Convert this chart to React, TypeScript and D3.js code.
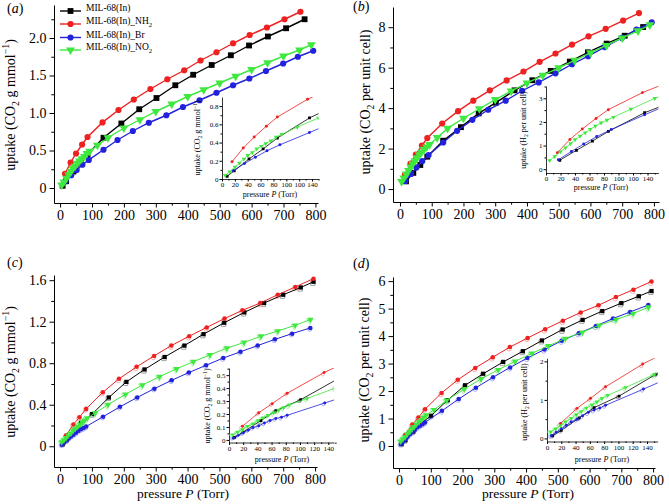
import React, { useEffect, useRef } from "react";
import * as d3 from "d3";

type Pt = [number, number];
type Part = [string, string];

// (a) uptake, CO2 g mmol-1 : black, red, blue, green
const aBlack: Pt[] = [[8,0.03],[19,0.09],[42,0.22],[64,0.33],[86,0.45],[136,0.67],[192,0.86],[248,1.05],[302,1.2],[361,1.37],[417,1.51],[475,1.64],[535,1.77],[592,1.9],[651,2.02],[708,2.13],[766,2.25]];
const aRed: Pt[] = [[15.6,0.19],[33,0.34],[50,0.46],[69,0.58],[86,0.68],[133,0.875],[183,1.04],[231,1.18],[283,1.32],[336,1.45],[389,1.57],[440,1.7],[490,1.81],[542,1.93],[594,2.04],[648,2.14],[703,2.25],[753,2.35]];
const aBlue: Pt[] = [[17,0.09],[35,0.17],[52,0.24],[70,0.31],[90,0.375],[136,0.51],[180,0.64],[228,0.76],[278,0.87],[333,0.97],[385,1.08],[437,1.17],[490,1.27],[542,1.37],[593,1.46],[645,1.56],[699,1.66],[745,1.75],[793,1.83]];
const aGreen: Pt[] = [[5,0.04],[12,0.08],[20,0.13],[27,0.175],[34,0.22],[40,0.26],[47,0.29],[54,0.33],[61,0.36],[68,0.39],[76,0.42],[84,0.46],[93,0.49],[117,0.57],[150,0.67],[200,0.8],[250,0.91],[300,1.02],[350,1.12],[400,1.22],[450,1.31],[500,1.4],[550,1.49],[600,1.58],[650,1.67],[700,1.76],[750,1.84],[787,1.91]];

// (b) uptake, CO2 per unit cell
const bBlack: Pt[] = [[19,0.38],[42,0.8],[64,1.19],[86,1.6],[136,2.39],[192,3.06],[248,3.74],[302,4.27],[361,4.88],[417,5.38],[475,5.84],[535,6.3],[592,6.76],[651,7.19],[708,7.58],[766,8.01]];
const bRed: Pt[] = [[15.6,0.7],[33,1.26],[50,1.7],[69,2.15],[86,2.52],[133,3.24],[183,3.85],[231,4.37],[283,4.88],[336,5.37],[389,5.81],[440,6.29],[490,6.7],[542,7.14],[594,7.55],[648,7.92],[703,8.33],[753,8.7]];
const bBlue: Pt[] = [[17,0.4],[35,0.75],[52,1.07],[70,1.38],[90,1.68],[136,2.3],[180,2.88],[228,3.42],[278,3.92],[333,4.37],[385,4.86],[437,5.27],[490,5.72],[542,6.17],[593,6.57],[645,7.02],[699,7.47],[745,7.88],[793,8.24]];
const bGreen: Pt[] = [[5,0.37],[12,0.54],[20,0.74],[27,0.91],[34,1.09],[40,1.25],[47,1.4],[54,1.54],[61,1.69],[68,1.82],[76,1.96],[84,2.08],[93,2.2],[117,2.54],[150,3.0],[200,3.5],[250,3.97],[300,4.42],[350,4.84],[400,5.24],[450,5.62],[500,5.99],[550,6.36],[600,6.73],[650,7.1],[700,7.47],[750,7.82],[787,8.12]];

// (c) uptake, CO2 g mmol-1 (filled + open)
const cBlack: Pt[] = [[8,0.02],[20,0.06],[45,0.15],[66,0.225],[101,0.31],[153,0.47],[208,0.62],[265,0.74],[328,0.86],[390,0.97],[450,1.08],[515,1.19],[578,1.29],[640,1.38],[700,1.46],[755,1.53],[795,1.585]];
const cRed: Pt[] = [[19,0.106],[42,0.21],[61,0.28],[82,0.36],[134,0.52],[185,0.65],[240,0.765],[295,0.87],[349,0.97],[405,1.06],[460,1.145],[516,1.23],[572,1.31],[628,1.38],[683,1.46],[738,1.535],[795,1.615]];
const cBlue: Pt[] = [[6,0.015],[13,0.035],[20,0.055],[27,0.075],[34,0.095],[42,0.11],[50,0.13],[58,0.15],[66,0.165],[74,0.175],[82,0.19],[135,0.285],[188,0.38],[242,0.47],[296,0.555],[350,0.635],[404,0.71],[458,0.78],[512,0.85],[566,0.91],[620,0.97],[674,1.03],[728,1.085],[785,1.14]];
const cGreen: Pt[] = [[5,0.04],[12,0.06],[19,0.08],[26,0.105],[34,0.125],[41,0.15],[48,0.17],[55,0.19],[63,0.21],[70,0.23],[77,0.25],[85,0.27],[110,0.32],[150,0.4],[205,0.5],[258,0.59],[312,0.67],[365,0.745],[418,0.815],[470,0.88],[523,0.945],[577,1.0],[630,1.06],[683,1.11],[737,1.165],[785,1.22]];
const cBlackOpen: Pt[] = [[6,0.015],[18,0.05],[43,0.14],[64,0.215],[99,0.3],[151,0.46],[206,0.605],[263,0.725],[326,0.845],[388,0.955],[448,1.065],[513,1.175],[576,1.275],[638,1.365],[698,1.445],[753,1.515],[793,1.57]];
const cRedOpen: Pt[] = [[17,0.095],[40,0.2],[59,0.27],[80,0.35],[132,0.505],[183,0.635],[238,0.75],[293,0.855],[347,0.955],[403,1.045],[458,1.13],[514,1.215],[570,1.295],[626,1.365],[681,1.445],[736,1.52],[792,1.595]];
const cBlueOpen: Pt[] = [[4,0.01],[11,0.028],[18,0.047],[25,0.066],[32,0.086],[40,0.1],[48,0.12],[56,0.14],[64,0.155],[72,0.165],[80,0.18],[133,0.275],[186,0.37],[240,0.46],[294,0.545],[348,0.625],[402,0.7],[456,0.77],[510,0.84],[564,0.9],[618,0.96],[672,1.02],[726,1.075],[783,1.13]];
const cGreenOpen: Pt[] = [[4,0.03],[11,0.05],[17,0.07],[24,0.095],[32,0.115],[39,0.14],[46,0.16],[53,0.18],[61,0.2],[68,0.22],[75,0.24],[83,0.26],[108,0.31],[148,0.39],[203,0.49],[256,0.58],[310,0.66],[363,0.735],[416,0.805],[468,0.87],[521,0.935],[575,0.99],[628,1.05],[681,1.1],[735,1.155],[783,1.21]];

// (d) uptake, CO2 per unit cell (filled + open)
const dBlack: Pt[] = [[8,0.07],[20,0.21],[45,0.53],[66,0.8],[101,1.1],[153,1.67],[208,2.21],[265,2.63],[328,3.06],[390,3.45],[450,3.84],[515,4.24],[578,4.59],[640,4.91],[700,5.2],[755,5.45],[795,5.64]];
const dRed: Pt[] = [[19,0.39],[42,0.78],[61,1.04],[82,1.34],[134,1.93],[185,2.41],[240,2.84],[295,3.23],[349,3.6],[405,3.93],[460,4.25],[516,4.56],[572,4.86],[628,5.12],[683,5.42],[738,5.69],[795,5.99]];
const dBlue: Pt[] = [[6,0.07],[13,0.16],[20,0.25],[27,0.34],[34,0.43],[42,0.5],[50,0.59],[58,0.68],[66,0.74],[74,0.79],[82,0.86],[135,1.28],[188,1.71],[242,2.12],[296,2.5],[350,2.86],[404,3.2],[458,3.51],[512,3.83],[566,4.1],[620,4.37],[674,4.64],[728,4.88],[785,5.13]];
const dGreen: Pt[] = [[5,0.17],[12,0.25],[19,0.33],[26,0.43],[34,0.52],[41,0.62],[48,0.7],[55,0.79],[63,0.87],[70,0.95],[77,1.04],[85,1.12],[110,1.32],[150,1.66],[205,2.07],[258,2.44],[312,2.77],[365,3.08],[418,3.37],[470,3.64],[523,3.91],[577,4.14],[630,4.39],[683,4.6],[737,4.82],[785,5.05]];
const dBlackOpen: Pt[] = [[6,0.05],[18,0.18],[43,0.5],[64,0.77],[99,1.07],[151,1.64],[206,2.15],[263,2.58],[326,3.0],[388,3.4],[448,3.79],[513,4.18],[576,4.54],[638,4.86],[698,5.14],[753,5.39],[793,5.59]];
const dRedOpen: Pt[] = [[17,0.35],[40,0.74],[59,1.0],[80,1.3],[132,1.87],[183,2.36],[238,2.78],[293,3.17],[347,3.54],[403,3.88],[458,4.19],[514,4.5],[570,4.8],[626,5.06],[681,5.36],[736,5.63],[792,5.92]];
const dBlueOpen: Pt[] = [[4,0.05],[11,0.13],[18,0.21],[25,0.3],[32,0.39],[40,0.46],[48,0.55],[56,0.63],[64,0.7],[72,0.75],[80,0.82],[133,1.24],[186,1.67],[240,2.07],[294,2.45],[348,2.81],[402,3.15],[456,3.46],[510,3.78],[564,4.05],[618,4.32],[672,4.59],[726,4.84],[783,5.09]];
const dGreenOpen: Pt[] = [[4,0.14],[11,0.22],[17,0.3],[24,0.4],[32,0.49],[39,0.58],[46,0.67],[53,0.75],[61,0.84],[68,0.92],[75,1.0],[83,1.09],[108,1.29],[148,1.62],[203,2.03],[256,2.4],[310,2.73],[363,3.04],[416,3.33],[468,3.6],[521,3.87],[575,4.1],[628,4.35],[681,4.56],[735,4.78],[783,5.0]];

const legendNames: Part[][] = [
  [["MIL-68(In)", "n"]],
  [["MIL-68(In)_NH", "n"], ["2", "sub"]],
  [["MIL-68(In)_Br", "n"]],
  [["MIL-68(In)_NO", "n"], ["2", "sub"]],
];
const colors = ["#000000", "#ee2020", "#2222dd", "#3ee83e"];
const openColors = ["#8c8c8c", "#f59a9a", "#9a9af2", "#9cef9c"];

const mainXTicks = [0, 100, 200, 300, 400, 500, 600, 700, 800];
const mainXMinor = [50, 150, 250, 350, 450, 550, 650, 750];
const insetXTicks = [0, 20, 40, 60, 80, 100, 120, 140];
const insetXMinor = [10, 30, 50, 70, 90, 110, 130, 150];
const insetXLabelsAB = ["0", "20", "40", "60", "80", "100", "100", "140"];
const insetXLabelsCD = ["0", "20", "40", "60", "80", "100", "120", "140"];

const yMass: Part[] = [["uptake (CO", "n"], ["2", "sub"], [" g mmol", "n"], ["\u22121", "sup"], [")", "n"]];
const yCell: Part[] = [["uptake (CO", "n"], ["2", "sub"], [" per unit cell)", "n"]];
const yH2: Part[] = [["uptake (H", "n"], ["2", "sub"], [" per unit cell)", "n"]];
const xPress: Part[] = [["pressure ", "n"], ["P", "i"], [" (Torr)", "n"]];

const FONT = "Liberation Serif, Times New Roman, serif";

function rich(t: any, parts: Part[], fs: number) {
  let cur = 0;
  parts.forEach(([s, k]) => {
    const off = k === "sub" ? fs * 0.28 : k === "sup" ? -fs * 0.4 : 0;
    const sp = t.append("tspan").attr("dy", off - cur).text(s);
    if (k === "sub" || k === "sup") sp.attr("font-size", fs * 0.7);
    if (k === "i") sp.attr("font-style", "italic");
    cur = off;
  });
}

function label(g: any, parts: Part[], x: number, y: number, fs: number, rotate = false) {
  const t = g.append("text")
    .attr("transform", `translate(${x},${y})${rotate ? " rotate(-90)" : ""}`)
    .attr("text-anchor", "middle").attr("font-size", fs).attr("dy", "0.35em");
  rich(t, parts, fs);
}

function axes(g: any, x: any, y: any, o: any) {
  const styleAxis = (s: any) => s.attr("font-family", FONT).attr("font-size", o.fs)
    .call((a: any) => a.select(".domain").attr("stroke-width", o.aw));
  g.append("g").attr("transform", `translate(0,${y.range()[0]})`)
    .call(d3.axisBottom(x).tickValues(o.xTicks).tickFormat((d: any, i: number) => o.xLabels[i])
      .tickSize(o.tick).tickSizeOuter(0).tickPadding(o.pad))
    .call(styleAxis);
  g.append("g").attr("transform", `translate(0,${y.range()[0]})`)
    .call(d3.axisBottom(x).tickValues(o.xMinor).tickFormat(() => "").tickSize(o.tick * 0.6).tickSizeOuter(0))
    .call((a: any) => a.select(".domain").remove());
  g.append("g").attr("transform", `translate(${x.range()[0]},0)`)
    .call(d3.axisLeft(y).tickValues(o.yTicks).tickFormat((d: any, i: number) => o.yLabels[i])
      .tickSize(o.tick).tickSizeOuter(0).tickPadding(o.pad))
    .call(styleAxis);
  g.append("g").attr("transform", `translate(${x.range()[0]},0)`)
    .call(d3.axisLeft(y).tickValues(o.yMinor).tickFormat(() => "").tickSize(o.tick * 0.6).tickSizeOuter(0))
    .call((a: any) => a.select(".domain").remove());
}

const symbols = [d3.symbolSquare, d3.symbolCircle, d3.symbolCircle, d3.symbolTriangle];
const rotations = [0, 0, 0, 180];

function series(g: any, x: any, y: any, data: Pt[], i: number, st: any, open = false) {
  const line = d3.line<Pt>().x((d) => x(d[0])).y((d) => y(d[1]));
  if (!open) {
    g.append("path").datum(data).attr("d", line).attr("fill", "none")
      .attr("stroke", colors[i]).attr("stroke-width", st.lw);
  }
  const size = st.sizes[i];
  g.append("g").selectAll("path").data(data).join("path")
    .attr("transform", (d: Pt) => `translate(${x(d[0])},${y(d[1])}) rotate(${rotations[i]})`)
    .attr("d", d3.symbol(symbols[i], size))
    .attr("fill", open ? "white" : colors[i])
    .attr("fill-opacity", open ? 0.6 : 1)
    .attr("stroke", open ? openColors[i] : "none")
    .attr("stroke-width", 0.8);
}

const bigStyle = { lw: 1.4, sizes: [34, 30, 30, 34] };
const smallStyle = { lw: 1, sizes: [18, 16, 16, 18] };
const insetStyle = { lw: 0.8, sizes: [8, 7, 7, 9] };

const panels = [
  {
    id: "a", letter: [7, 13], xDom: [-19, 808], xRange: [54, 318], yDom: [-0.2, 2.44], yRange: [203, 5],
    yTicks: [0, 0.5, 1, 1.5, 2], yLabels: ["0", "0.5", "1.0", "1.5", "2.0"], yMinor: [0.25, 0.75, 1.25, 1.75, 2.25],
    ylab: yMass, ylabPos: [15, 105], xlabPos: null, filled: [aBlack, aRed, aBlue, aGreen], open: null, style: bigStyle,
    inset: {
      xDom: [0, 150], xRange: [222, 318.5], yDom: [0, 0.9], yRange: [179, 97],
      yTicks: [0, 0.2, 0.4, 0.6, 0.8], yLabels: ["0", "0.2", "0.4", "0.6", "0.8"], yMinor: [0.1, 0.3, 0.5, 0.7],
      xLabels: insetXLabelsAB, ylab: yMass, ylabPos: [200, 138], xlabPos: [270, 197],
    },
  },
  {
    id: "b", letter: [353, 11], xDom: [-22, 816], xRange: [393, 659], yDom: [-0.64, 9.0], yRange: [202, 7],
    yTicks: [0, 2, 4, 6, 8], yLabels: ["0", "2", "4", "6", "8"], yMinor: [1, 3, 5, 7],
    ylab: yCell, ylabPos: [370, 102], xlabPos: null, filled: [bBlack, bRed, bBlue, bGreen], open: null, style: bigStyle,
    inset: {
      xDom: [0, 155], xRange: [546, 658.4], yDom: [-0.16, 3.52], yRange: [173, 86],
      yTicks: [0, 1, 2, 3], yLabels: ["0", "1", "2", "3"], yMinor: [0.5, 1.5, 2.5, 3.5],
      xLabels: insetXLabelsAB, ylab: yH2, ylabPos: [526, 130], xlabPos: [601, 190],
    },
  },
  {
    id: "c", letter: [7, 267], xDom: [-19, 806], xRange: [54, 317], yDom: [-0.2, 1.65], yRange: [467, 275],
    yTicks: [0, 0.4, 0.8, 1.2, 1.6], yLabels: ["0", "0.4", "0.8", "1.2", "1.6"], yMinor: [0.2, 0.6, 1.0, 1.4],
    ylab: yMass, ylabPos: [15, 372], xlabPos: [183, 498], filled: [cBlack, cRed, cBlue, cGreen],
    open: [cBlackOpen, cRedOpen, cBlueOpen, cGreenOpen], style: smallStyle,
    inset: {
      xDom: [0, 148], xRange: [229, 334], yDom: [-0.02, 0.555], yRange: [442.5, 368],
      yTicks: [0, 0.1, 0.2, 0.3, 0.4, 0.5], yLabels: ["0", "0.1", "0.2", "0.3", "0.4", "0.5"],
      yMinor: [0.05, 0.15, 0.25, 0.35, 0.45, 0.55],
      xLabels: insetXLabelsCD, ylab: yMass, ylabPos: [210, 406], xlabPos: [282, 461.5],
    },
  },
  {
    id: "d", letter: [353, 268], xDom: [-19, 806], xRange: [393, 655], yDom: [-0.8, 6.15], yRange: [468, 277],
    yTicks: [0, 1, 2, 3, 4, 5, 6], yLabels: ["0", "1", "2", "3", "4", "5", "6"], yMinor: [0.5, 1.5, 2.5, 3.5, 4.5, 5.5],
    ylab: yCell, ylabPos: [369, 370], xlabPos: [528, 498], filled: [dBlack, dRed, dBlue, dGreen],
    open: [dBlackOpen, dRedOpen, dBlueOpen, dGreenOpen], style: smallStyle,
    inset: {
      xDom: [0, 155], xRange: [547, 657.7], yDom: [-0.08, 2.08], yRange: [441.5, 358.3],
      yTicks: [0, 1, 2], yLabels: ["0", "1", "2"], yMinor: [0.5, 1.5],
      xLabels: insetXLabelsCD, ylab: yH2, ylabPos: [527, 402], xlabPos: [602, 461.5],
    },
  },
];

export default function App() {
  const svgRef = useRef<SVGSVGElement>(null);

  useEffect(() => {
    const svg = d3.select(svgRef.current);
    svg.selectAll("*").remove();

    panels.forEach((p) => {
      const g = svg.append("g");
      const x = d3.scaleLinear().domain(p.xDom).range(p.xRange);
      const y = d3.scaleLinear().domain(p.yDom).range(p.yRange);

      axes(g, x, y, {
        xTicks: mainXTicks, xLabels: mainXTicks.map(String), xMinor: mainXMinor,
        yTicks: p.yTicks, yLabels: p.yLabels, yMinor: p.yMinor, tick: 4.5, pad: 3, fs: 14, aw: 1,
      });

      const lt = g.append("text").attr("x", p.letter[0]).attr("y", p.letter[1]).attr("dy", "0.35em").attr("font-size", 14);
      rich(lt, [["(", "n"], [p.id, "i"], [")", "n"]], 14);

      label(g, p.ylab, p.ylabPos[0], p.ylabPos[1], 14, true);
      if (p.xlabPos) label(g, xPress, p.xlabPos[0], p.xlabPos[1], 13.5);

      if (p.open) p.open.forEach((d, i) => series(g, x, y, d, i, p.style, true));
      p.filled.forEach((d, i) => series(g, x, y, d, i, p.style));

      // inset
      const q = p.inset;
      const ix = d3.scaleLinear().domain(q.xDom).range(q.xRange);
      const iy = d3.scaleLinear().domain(q.yDom).range(q.yRange);
      const ig = svg.append("g");
      axes(ig, ix, iy, {
        xTicks: insetXTicks, xLabels: q.xLabels, xMinor: insetXMinor,
        yTicks: q.yTicks, yLabels: q.yLabels, yMinor: q.yMinor, tick: 2.5, pad: 1, fs: 7, aw: 0.8,
      });
      label(ig, q.ylab, q.ylabPos[0], q.ylabPos[1], 8, true);
      label(ig, xPress, q.xlabPos[0], q.xlabPos[1], 8);

      const clipId = `clip-${p.id}`;
      svg.append("clipPath").attr("id", clipId).append("rect")
        .attr("x", q.xRange[0] - 3).attr("y", q.yRange[1])
        .attr("width", q.xRange[1] - q.xRange[0] + 3).attr("height", q.yRange[0] - q.yRange[1] + 3);
      const dg = ig.append("g").attr("clip-path", `url(#${clipId})`);
      if (p.open) p.open.forEach((d, i) => series(dg, ix, iy, d, i, insetStyle, true));
      p.filled.forEach((d, i) => series(dg, ix, iy, d, i, insetStyle));

      // legend in panel (a)
      if (p.id === "a") {
        const rows = [11, 24, 37.5, 50];
        legendNames.forEach((parts, i) => {
          const lg = g.append("g").attr("transform", `translate(0,${rows[i]})`);
          lg.append("line").attr("x1", 60).attr("x2", 81).attr("stroke", colors[i]).attr("stroke-width", 1.4);
          lg.append("path").attr("transform", `translate(70.5,0) rotate(${rotations[i]})`)
            .attr("d", d3.symbol(symbols[i], bigStyle.sizes[i])).attr("fill", colors[i]);
          const t = lg.append("text").attr("x", 86).attr("dy", "0.35em").attr("font-size", 9.5);
          rich(t, parts, 9.5);
        });
      }
    });
  }, []);

  return (
    <svg
      ref={svgRef}
      width={669}
      height={504}
      style={{ position: "absolute", left: 0, top: 0, background: "white", fontFamily: FONT }}
    />
  );
}
